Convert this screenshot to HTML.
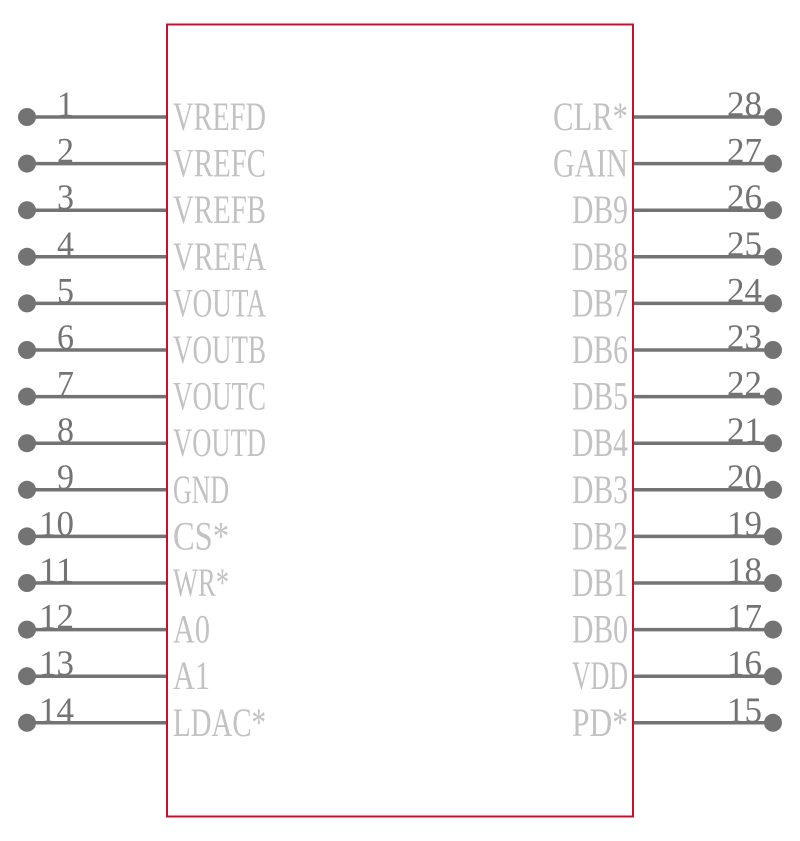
<!DOCTYPE html>
<html><head><meta charset="utf-8"><style>html,body{margin:0;padding:0;background:#fff}svg{display:block}</style></head><body>
<svg width="800" height="841" viewBox="0 0 800 841" xmlns="http://www.w3.org/2000/svg" font-family="Liberation Serif, serif" font-size="36">
<rect x="167" y="24.5" width="466" height="792" fill="none" stroke="#c8102e" stroke-width="2"/>
<g stroke="#737373" stroke-width="3.5">
<line x1="27" y1="117" x2="166" y2="117"/><line x1="27" y1="163.6" x2="166" y2="163.6"/><line x1="27" y1="210.2" x2="166" y2="210.2"/><line x1="27" y1="256.8" x2="166" y2="256.8"/><line x1="27" y1="303.4" x2="166" y2="303.4"/><line x1="27" y1="350" x2="166" y2="350"/><line x1="27" y1="396.6" x2="166" y2="396.6"/><line x1="27" y1="443.2" x2="166" y2="443.2"/><line x1="27" y1="489.8" x2="166" y2="489.8"/><line x1="27" y1="536.4" x2="166" y2="536.4"/><line x1="27" y1="583" x2="166" y2="583"/><line x1="27" y1="629.6" x2="166" y2="629.6"/><line x1="27" y1="676.2" x2="166" y2="676.2"/><line x1="27" y1="722.8" x2="166" y2="722.8"/>
<line x1="634" y1="117" x2="773" y2="117"/><line x1="634" y1="163.6" x2="773" y2="163.6"/><line x1="634" y1="210.2" x2="773" y2="210.2"/><line x1="634" y1="256.8" x2="773" y2="256.8"/><line x1="634" y1="303.4" x2="773" y2="303.4"/><line x1="634" y1="350" x2="773" y2="350"/><line x1="634" y1="396.6" x2="773" y2="396.6"/><line x1="634" y1="443.2" x2="773" y2="443.2"/><line x1="634" y1="489.8" x2="773" y2="489.8"/><line x1="634" y1="536.4" x2="773" y2="536.4"/><line x1="634" y1="583" x2="773" y2="583"/><line x1="634" y1="629.6" x2="773" y2="629.6"/><line x1="634" y1="676.2" x2="773" y2="676.2"/><line x1="634" y1="722.8" x2="773" y2="722.8"/>
</g>
<g fill="#737373">
<circle cx="27" cy="117" r="9"/><circle cx="27" cy="163.6" r="9"/><circle cx="27" cy="210.2" r="9"/><circle cx="27" cy="256.8" r="9"/><circle cx="27" cy="303.4" r="9"/><circle cx="27" cy="350" r="9"/><circle cx="27" cy="396.6" r="9"/><circle cx="27" cy="443.2" r="9"/><circle cx="27" cy="489.8" r="9"/><circle cx="27" cy="536.4" r="9"/><circle cx="27" cy="583" r="9"/><circle cx="27" cy="629.6" r="9"/><circle cx="27" cy="676.2" r="9"/><circle cx="27" cy="722.8" r="9"/>
<circle cx="773" cy="117" r="9"/><circle cx="773" cy="163.6" r="9"/><circle cx="773" cy="210.2" r="9"/><circle cx="773" cy="256.8" r="9"/><circle cx="773" cy="303.4" r="9"/><circle cx="773" cy="350" r="9"/><circle cx="773" cy="396.6" r="9"/><circle cx="773" cy="443.2" r="9"/><circle cx="773" cy="489.8" r="9"/><circle cx="773" cy="536.4" r="9"/><circle cx="773" cy="583" r="9"/><circle cx="773" cy="629.6" r="9"/><circle cx="773" cy="676.2" r="9"/><circle cx="773" cy="722.8" r="9"/>
</g>
<g fill="#737373" text-anchor="end">
<text x="74" y="116" textLength="17" lengthAdjust="spacingAndGlyphs">1</text>
<text x="74" y="162.6" textLength="17" lengthAdjust="spacingAndGlyphs">2</text>
<text x="74" y="209.2" textLength="17" lengthAdjust="spacingAndGlyphs">3</text>
<text x="74" y="255.8" textLength="17" lengthAdjust="spacingAndGlyphs">4</text>
<text x="74" y="302.4" textLength="17" lengthAdjust="spacingAndGlyphs">5</text>
<text x="74" y="349" textLength="17" lengthAdjust="spacingAndGlyphs">6</text>
<text x="74" y="395.6" textLength="17" lengthAdjust="spacingAndGlyphs">7</text>
<text x="74" y="442.2" textLength="17" lengthAdjust="spacingAndGlyphs">8</text>
<text x="74" y="488.8" textLength="17" lengthAdjust="spacingAndGlyphs">9</text>
<text x="74" y="535.4" textLength="35" lengthAdjust="spacingAndGlyphs">10</text>
<text x="74" y="582" textLength="35" lengthAdjust="spacingAndGlyphs">11</text>
<text x="74" y="628.6" textLength="35" lengthAdjust="spacingAndGlyphs">12</text>
<text x="74" y="675.2" textLength="35" lengthAdjust="spacingAndGlyphs">13</text>
<text x="74" y="721.8" textLength="35" lengthAdjust="spacingAndGlyphs">14</text>
</g>
<g fill="#737373">
<text x="727" y="116" textLength="35" lengthAdjust="spacingAndGlyphs">28</text>
<text x="727" y="162.6" textLength="35" lengthAdjust="spacingAndGlyphs">27</text>
<text x="727" y="209.2" textLength="35" lengthAdjust="spacingAndGlyphs">26</text>
<text x="727" y="255.8" textLength="35" lengthAdjust="spacingAndGlyphs">25</text>
<text x="727" y="302.4" textLength="35" lengthAdjust="spacingAndGlyphs">24</text>
<text x="727" y="349" textLength="35" lengthAdjust="spacingAndGlyphs">23</text>
<text x="727" y="395.6" textLength="35" lengthAdjust="spacingAndGlyphs">22</text>
<text x="727" y="442.2" textLength="35" lengthAdjust="spacingAndGlyphs">21</text>
<text x="727" y="488.8" textLength="35" lengthAdjust="spacingAndGlyphs">20</text>
<text x="727" y="535.4" textLength="35" lengthAdjust="spacingAndGlyphs">19</text>
<text x="727" y="582" textLength="35" lengthAdjust="spacingAndGlyphs">18</text>
<text x="727" y="628.6" textLength="35" lengthAdjust="spacingAndGlyphs">17</text>
<text x="727" y="675.2" textLength="35" lengthAdjust="spacingAndGlyphs">16</text>
<text x="727" y="721.8" textLength="35" lengthAdjust="spacingAndGlyphs">15</text>
</g>
<g fill="#c2c2c2" font-size="40">
<text x="173" y="130" textLength="93" lengthAdjust="spacingAndGlyphs">VREFD</text>
<text x="173" y="176.6" textLength="93" lengthAdjust="spacingAndGlyphs">VREFC</text>
<text x="173" y="223.2" textLength="93" lengthAdjust="spacingAndGlyphs">VREFB</text>
<text x="173" y="269.8" textLength="93" lengthAdjust="spacingAndGlyphs">VREFA</text>
<text x="173" y="316.4" textLength="93" lengthAdjust="spacingAndGlyphs">VOUTA</text>
<text x="173" y="363" textLength="93" lengthAdjust="spacingAndGlyphs">VOUTB</text>
<text x="173" y="409.6" textLength="93" lengthAdjust="spacingAndGlyphs">VOUTC</text>
<text x="173" y="456.2" textLength="93" lengthAdjust="spacingAndGlyphs">VOUTD</text>
<text x="173" y="502.8" textLength="56" lengthAdjust="spacingAndGlyphs">GND</text>
<text x="173" y="549.4" textLength="56" lengthAdjust="spacingAndGlyphs">CS*</text>
<text x="173" y="596" textLength="56" lengthAdjust="spacingAndGlyphs">WR*</text>
<text x="173" y="642.6" textLength="37" lengthAdjust="spacingAndGlyphs">A0</text>
<text x="173" y="689.2" textLength="37" lengthAdjust="spacingAndGlyphs">A1</text>
<text x="173" y="735.8" textLength="93" lengthAdjust="spacingAndGlyphs">LDAC*</text>
</g>
<g fill="#c2c2c2" text-anchor="end" font-size="40">
<text x="628" y="130" textLength="75" lengthAdjust="spacingAndGlyphs">CLR*</text>
<text x="628" y="176.6" textLength="75" lengthAdjust="spacingAndGlyphs">GAIN</text>
<text x="628" y="223.2" textLength="56" lengthAdjust="spacingAndGlyphs">DB9</text>
<text x="628" y="269.8" textLength="56" lengthAdjust="spacingAndGlyphs">DB8</text>
<text x="628" y="316.4" textLength="56" lengthAdjust="spacingAndGlyphs">DB7</text>
<text x="628" y="363" textLength="56" lengthAdjust="spacingAndGlyphs">DB6</text>
<text x="628" y="409.6" textLength="56" lengthAdjust="spacingAndGlyphs">DB5</text>
<text x="628" y="456.2" textLength="56" lengthAdjust="spacingAndGlyphs">DB4</text>
<text x="628" y="502.8" textLength="56" lengthAdjust="spacingAndGlyphs">DB3</text>
<text x="628" y="549.4" textLength="56" lengthAdjust="spacingAndGlyphs">DB2</text>
<text x="628" y="596" textLength="56" lengthAdjust="spacingAndGlyphs">DB1</text>
<text x="628" y="642.6" textLength="56" lengthAdjust="spacingAndGlyphs">DB0</text>
<text x="628" y="689.2" textLength="56" lengthAdjust="spacingAndGlyphs">VDD</text>
<text x="628" y="735.8" textLength="56" lengthAdjust="spacingAndGlyphs">PD*</text>
</g>
</svg>
</body></html>
